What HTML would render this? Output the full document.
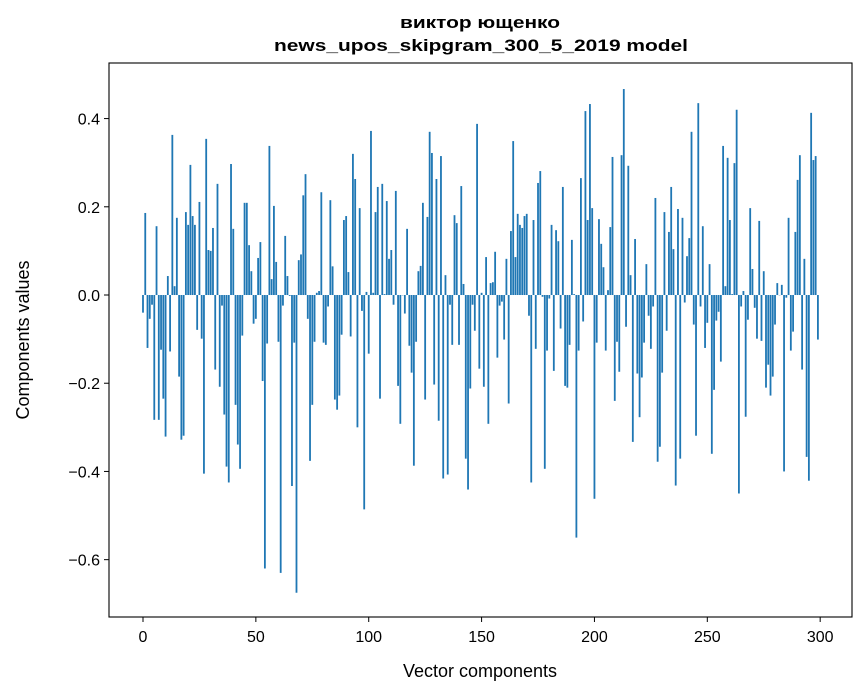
<!DOCTYPE html>
<html><head><meta charset="utf-8">
<style>
html,body{margin:0;padding:0;background:#fff;}
svg{display:block;font-family:"Liberation Sans","DejaVu Sans",sans-serif;}
</style></head>
<body>
<svg id="chart" width="867" height="696" viewBox="0 0 867 696" xmlns="http://www.w3.org/2000/svg">
<rect x="0" y="0" width="867" height="696" fill="#fff"/>
<text x="480" y="28" text-anchor="middle" font-size="17" font-weight="bold" textLength="160" lengthAdjust="spacingAndGlyphs">виктор ющенко</text>
<text x="481" y="51" text-anchor="middle" font-size="17" font-weight="bold" textLength="414" lengthAdjust="spacingAndGlyphs">news_upos_skipgram_300_5_2019 model</text>
<g id="bars"></g>
<g id="axes"></g>
<text x="480" y="677" text-anchor="middle" font-size="18">Vector components</text>
<text transform="translate(29,340) rotate(-90)" text-anchor="middle" font-size="18">Components values</text>
</svg>
<script>
const values = [
-0.04,0.186,-0.12,-0.054,-0.022,-0.283,0.156,-0.283,-0.124,-0.235,
-0.321,0.043,-0.128,0.363,0.02,0.175,-0.185,-0.328,-0.319,0.188,
0.159,0.295,0.179,0.159,-0.079,0.211,-0.099,-0.405,0.354,0.102,
0.1,0.152,-0.169,0.252,-0.208,-0.024,-0.271,-0.389,-0.425,0.297,
0.15,-0.249,-0.339,-0.394,-0.092,0.209,0.209,0.113,0.054,-0.065,
-0.054,0.084,0.12,-0.195,-0.62,-0.11,0.338,0.036,0.202,0.075,
-0.106,-0.63,-0.024,0.134,0.043,-0.002,-0.433,-0.108,-0.675,0.079,
0.092,0.226,0.274,-0.054,-0.376,-0.249,-0.106,0.005,0.009,0.233,
-0.108,-0.113,-0.026,0.215,0.065,-0.237,-0.26,-0.228,-0.09,0.17,
0.179,0.052,-0.094,0.32,0.263,-0.3,0.197,-0.036,-0.486,0.007,
-0.133,0.372,0.005,0.188,0.245,-0.235,0.252,0.002,0.213,0.082,
0.102,-0.022,0.236,-0.206,-0.292,0.0,-0.042,0.15,-0.115,-0.176,
-0.387,-0.106,0.054,0.066,0.209,-0.237,0.177,0.37,0.322,-0.203,
0.263,-0.285,0.315,-0.416,0.045,-0.407,-0.022,-0.113,0.181,0.163,
-0.113,0.247,0.025,-0.371,-0.441,-0.212,-0.022,-0.081,0.388,-0.167,
0.005,-0.208,0.086,-0.292,0.027,0.029,0.098,-0.142,-0.024,-0.015,
-0.101,0.082,-0.246,0.145,0.349,0.086,0.184,0.159,0.152,0.179,
0.184,-0.047,-0.425,0.17,-0.122,0.254,0.281,-0.004,-0.394,-0.126,
-0.008,0.159,-0.172,0.147,0.122,-0.076,0.245,-0.206,-0.21,-0.113,
0.125,0.002,-0.55,-0.126,0.265,-0.06,0.417,0.17,0.433,0.197,
-0.462,-0.108,0.172,0.116,0.063,-0.126,0.011,0.154,0.313,-0.24,
-0.106,-0.174,0.317,0.467,-0.072,0.293,0.045,-0.333,0.127,-0.178,
-0.277,-0.187,-0.108,0.07,-0.047,-0.122,-0.026,0.22,-0.378,-0.344,
-0.176,0.188,-0.081,0.143,0.245,0.104,-0.432,0.195,-0.371,0.175,
-0.017,0.088,0.129,0.37,-0.067,-0.319,0.435,-0.026,0.156,-0.12,
-0.063,0.07,-0.36,-0.215,-0.058,-0.038,-0.151,0.338,0.02,0.311,
0.17,0.002,0.299,0.42,-0.45,-0.026,0.009,-0.276,-0.056,0.197,
0.059,-0.029,-0.099,0.168,-0.104,0.054,-0.21,-0.158,-0.228,-0.185,
-0.067,0.027,0.0,0.023,-0.4,-0.006,0.175,-0.126,-0.083,0.143,
0.261,0.317,-0.169,0.082,-0.367,-0.421,0.413,0.306,0.315,-0.101
];
const xTicks = [0,50,100,150,200,250,300];
const yTicks = [-0.6,-0.4,-0.2,0.0,0.2,0.4];
const yTickLabels = ["\u22120.6","\u22120.4","\u22120.2","0.0","0.2","0.4"];

const L=109,R=852,T=63,B=617;
const xMin=-15.06,xMax=314.1,yMin=-0.730,yMax=0.526;
function sx(v){return L+(v-xMin)/(xMax-xMin)*(R-L);}
function sy(v){return B-(v-yMin)/(yMax-yMin)*(B-T);}
const NS="http://www.w3.org/2000/svg";
const bars=document.getElementById('bars');
const bw=(sx(0.8)-sx(0));
values.forEach((v,i)=>{
  const r=document.createElementNS(NS,'rect');
  const y0=sy(0),y1=sy(v);
  r.setAttribute('x',sx(i)-bw/2);
  r.setAttribute('y',Math.min(y0,y1));
  r.setAttribute('width',bw);
  r.setAttribute('height',Math.max(Math.abs(y1-y0),0.3));
  r.setAttribute('fill','#1f77b4');
  
  
  bars.appendChild(r);
});
const axes=document.getElementById('axes');
const frame=document.createElementNS(NS,'rect');
frame.setAttribute('x',L);frame.setAttribute('y',T);
frame.setAttribute('width',R-L);frame.setAttribute('height',B-T);
frame.setAttribute('fill','none');frame.setAttribute('stroke','#000');frame.setAttribute('stroke-width','1.1');


axes.appendChild(frame);
xTicks.forEach(t=>{
  const x=sx(t);
  const l=document.createElementNS(NS,'line');
  l.setAttribute('x1',x);l.setAttribute('x2',x);l.setAttribute('y1',B);l.setAttribute('y2',B+5);
  l.setAttribute('stroke','#000');
  
  
  axes.appendChild(l);
  const tx=document.createElementNS(NS,'text');
  tx.setAttribute('x',x);tx.setAttribute('y',B+25);tx.setAttribute('text-anchor','middle');tx.setAttribute('font-size','16');
  tx.textContent=t;
  
  
  axes.appendChild(tx);
});
yTicks.forEach((t,k)=>{
  const y=sy(t);
  const l=document.createElementNS(NS,'line');
  l.setAttribute('x1',L-5);l.setAttribute('x2',L);l.setAttribute('y1',y);l.setAttribute('y2',y);
  l.setAttribute('stroke','#000');
  
  
  axes.appendChild(l);
  const tx=document.createElementNS(NS,'text');
  tx.setAttribute('x',L-9);tx.setAttribute('y',y+6);tx.setAttribute('text-anchor','end');tx.setAttribute('font-size','16');
  tx.textContent=yTickLabels[k];
  
  
  axes.appendChild(tx);
});
</script>
</body></html>
